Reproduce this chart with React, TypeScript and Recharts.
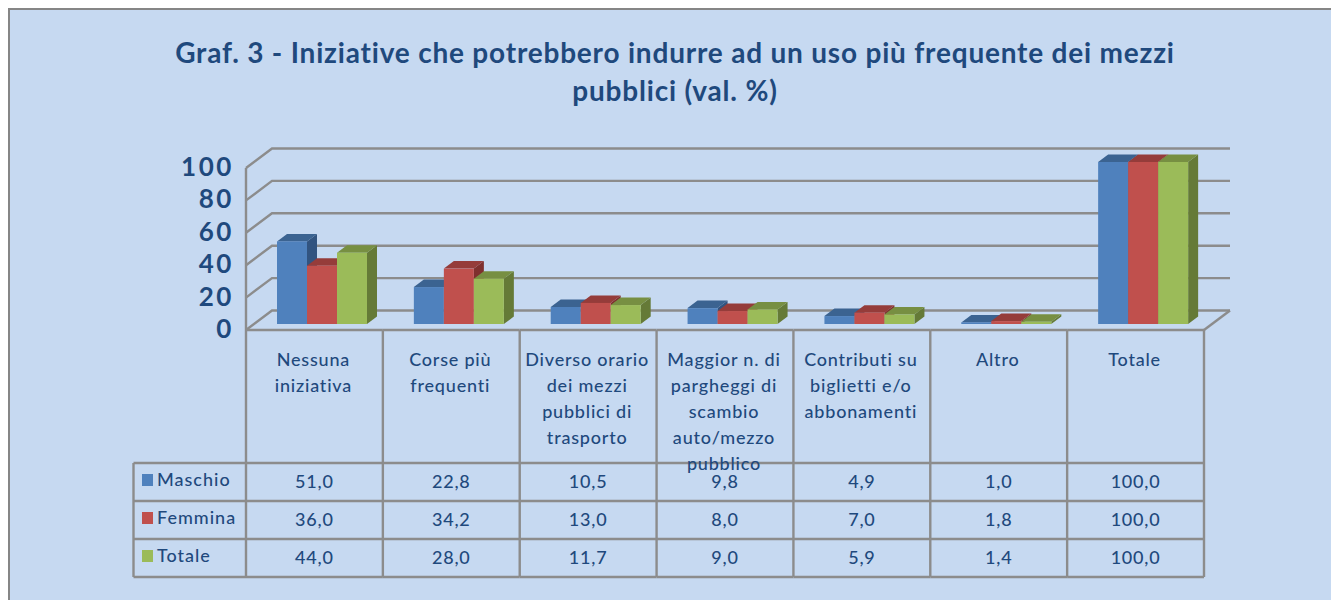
import React from 'react';
import { BarChart, Bar, XAxis, YAxis, CartesianGrid } from 'recharts';

const categories = ['Nessuna iniziativa', 'Corse più frequenti', 'Diverso orario dei mezzi pubblici di trasporto', 'Maggior n. di pargheggi di scambio auto/mezzo pubblico', 'Contributi su biglietti e/o abbonamenti', 'Altro', 'Totale'];
const categoryLines = [
  ['Nessuna', 'iniziativa'],
  ['Corse più', 'frequenti'],
  ['Diverso orario', 'dei mezzi', 'pubblici di', 'trasporto'],
  ['Maggior n. di', 'pargheggi di', 'scambio', 'auto/mezzo', 'pubblico'],
  ['Contributi su', 'biglietti e/o', 'abbonamenti'],
  ['Altro'],
  ['Totale'],
];
const maschio = [51.0, 22.8, 10.5, 9.8, 4.9, 1.0, 100.0];
const femmina = [36.0, 34.2, 13.0, 8.0, 7.0, 1.8, 100.0];
const totale = [44.0, 28.0, 11.7, 9.0, 5.9, 1.4, 100.0];
const yTicks = [0, 20, 40, 60, 80, 100];

const data = categories.map((name, i) => ({ name, maschio: maschio[i], femmina: femmina[i], totale: totale[i] }));

const series = [
  { key: 'maschio', label: 'Maschio', values: maschio, front: '#4F81BD', top: '#3B6391', side: '#325480' },
  { key: 'femmina', label: 'Femmina', values: femmina, front: '#C0504D', top: '#953C3A', side: '#7F302E' },
  { key: 'totale', label: 'Totale', values: totale, front: '#9BBB59', top: '#778F42', side: '#657A37' },
];

const TEXT = '#1F497D';
const LINE = '#8C8C8C';
const LINE_WIDTH = 2.4;
const FONT = 'Lato, sans-serif';

// the bars stand a bit inside the floor, the walls and the table are shifted from them
const PLOT_LEFT = 254;
const PLOT_RIGHT = 1212;
const PLOT_TOP = 162;
const PLOT_BOTTOM = 324;
const FRONT_DX = -8;
const FRONT_DY = 6;
const BACK_DX = 18;
const BACK_DY = -13.5;
const BAR_DX = 10;
const BAR_DY = -7.5;
const BAND = (PLOT_RIGHT - PLOT_LEFT) / categories.length;
const ROWS = [463, 501, 539, 577];
const LEGEND_LEFT = 133.5;

const makeBarShape = (front: string, top: string, side: string) => (props: any) => {
  const { x, y, width, height } = props;
  return (
    <g>
      <polygon points={`${x + width},${y} ${x + width + BAR_DX},${y + BAR_DY} ${x + width + BAR_DX},${y + height + BAR_DY} ${x + width},${y + height}`} fill={side} />
      <polygon points={`${x},${y} ${x + BAR_DX},${y + BAR_DY} ${x + width + BAR_DX},${y + BAR_DY} ${x + width},${y}`} fill={top} />
      <rect x={x} y={y} width={width} height={height} fill={front} />
    </g>
  );
};

const gridLine = (props: any) => {
  const { x1, x2, y1 } = props;
  const isFloor = Math.abs(y1 - PLOT_BOTTOM) < 0.5;
  return (
    <g key={`wall-${y1}`} fill="none" stroke={LINE} strokeWidth={LINE_WIDTH}>
      <polyline points={`${x1 + FRONT_DX},${y1 + FRONT_DY} ${x1 + BACK_DX},${y1 + BACK_DY} ${x2 + BACK_DX},${y1 + BACK_DY}`} />
      {isFloor && <line x1={x2 + BACK_DX} y1={y1 + BACK_DY} x2={x2 + FRONT_DX} y2={y1 + FRONT_DY} />}
    </g>
  );
};

const YTick = (props: any) => {
  const { y, payload } = props;
  return (
    <text x={234} y={y + FRONT_DY + 8} textAnchor="end" fontFamily={FONT} fontWeight={700} fontSize={26} letterSpacing={2.6} fill={TEXT}>
      {payload.value}
    </text>
  );
};

const TableColumn = (props: any) => {
  const { x, index } = props;
  const center = x + FRONT_DX;
  const left = center - BAND / 2;
  const right = center + BAND / 2;
  const floorY = PLOT_BOTTOM + FRONT_DY;
  const isFirst = index === 0;
  const isLast = index === categories.length - 1;
  return (
    <g>
      <g stroke={LINE} strokeWidth={LINE_WIDTH}>
        <line x1={left} y1={floorY} x2={right} y2={floorY} />
        <line x1={left} y1={isFirst ? PLOT_TOP + FRONT_DY : floorY} x2={left} y2={ROWS[3]} />
        {isLast && <line x1={right} y1={floorY} x2={right} y2={ROWS[3]} />}
        {ROWS.map((r) => (
          <line key={r} x1={left} y1={r} x2={right} y2={r} />
        ))}
      </g>
      <g fontFamily={FONT} fontSize={18} fontWeight={500} letterSpacing={0.8} fill={TEXT} textAnchor="middle">
        {categoryLines[index].map((line, i) => (
          <text key={line} x={center - 1} y={366 + i * 26}>{line}</text>
        ))}
        {series.map((s, i) => (
          <text key={s.key} x={center} y={ROWS[i] + 25}>{s.values[index].toFixed(1).replace('.', ',')}</text>
        ))}
      </g>
      {isFirst && (
        <g>
          <g stroke={LINE} strokeWidth={LINE_WIDTH}>
            {ROWS.map((r) => (
              <line key={r} x1={LEGEND_LEFT} y1={r} x2={left} y2={r} />
            ))}
            <line x1={LEGEND_LEFT} y1={ROWS[0]} x2={LEGEND_LEFT} y2={ROWS[3]} />
          </g>
          {series.map((s, i) => (
            <g key={s.key}>
              <rect x={142} y={ROWS[i] + 11} width={11} height={12} fill={s.front} />
              <text x={157} y={ROWS[i] + 23} fontFamily={FONT} fontSize={18} fontWeight={500} fill={TEXT} letterSpacing={1}>{s.label}</text>
            </g>
          ))}
        </g>
      )}
    </g>
  );
};

export default function App() {
  return (
    <div style={{ position: 'relative', width: 1331, height: 600, overflow: 'hidden', background: '#fff' }}>
      <style>{'body{margin:0}'}</style>
      <div style={{ position: 'absolute', left: 8, top: 8, width: 1331, height: 600, background: '#C6D9F1', borderLeft: '2.5px solid #868686', borderTop: '2.5px solid #868686' }} />
      <div style={{ position: 'absolute', left: 125, top: 33, width: 1100, textAlign: 'center', fontFamily: FONT, fontWeight: 700, fontSize: 28, letterSpacing: 0.8, lineHeight: '38px', color: TEXT }}>
        Graf. 3 - Iniziative che potrebbero indurre ad un uso più frequente dei mezzi
        <br />
        pubblici (val. %)
      </div>
      <div style={{ position: 'absolute', left: 0, top: 0 }}>
        <BarChart
          width={1331}
          height={600}
          data={data}
          barGap={0}
          barCategoryGap={23}
          margin={{ top: PLOT_TOP, right: 1331 - PLOT_RIGHT, bottom: 600 - PLOT_BOTTOM - 30, left: PLOT_LEFT - 60 }}
        >
          <CartesianGrid vertical={false} horizontal={gridLine} />
          <XAxis dataKey="name" interval={0} height={30} axisLine={false} tickLine={false} tick={TableColumn} />
          <YAxis width={60} domain={[0, 100]} ticks={yTicks} axisLine={false} tickLine={false} tick={YTick} />
          {series.map((s) => (
            <Bar key={s.key} dataKey={s.key} isAnimationActive={false} shape={makeBarShape(s.front, s.top, s.side)} />
          ))}
        </BarChart>
      </div>
    </div>
  );
}
